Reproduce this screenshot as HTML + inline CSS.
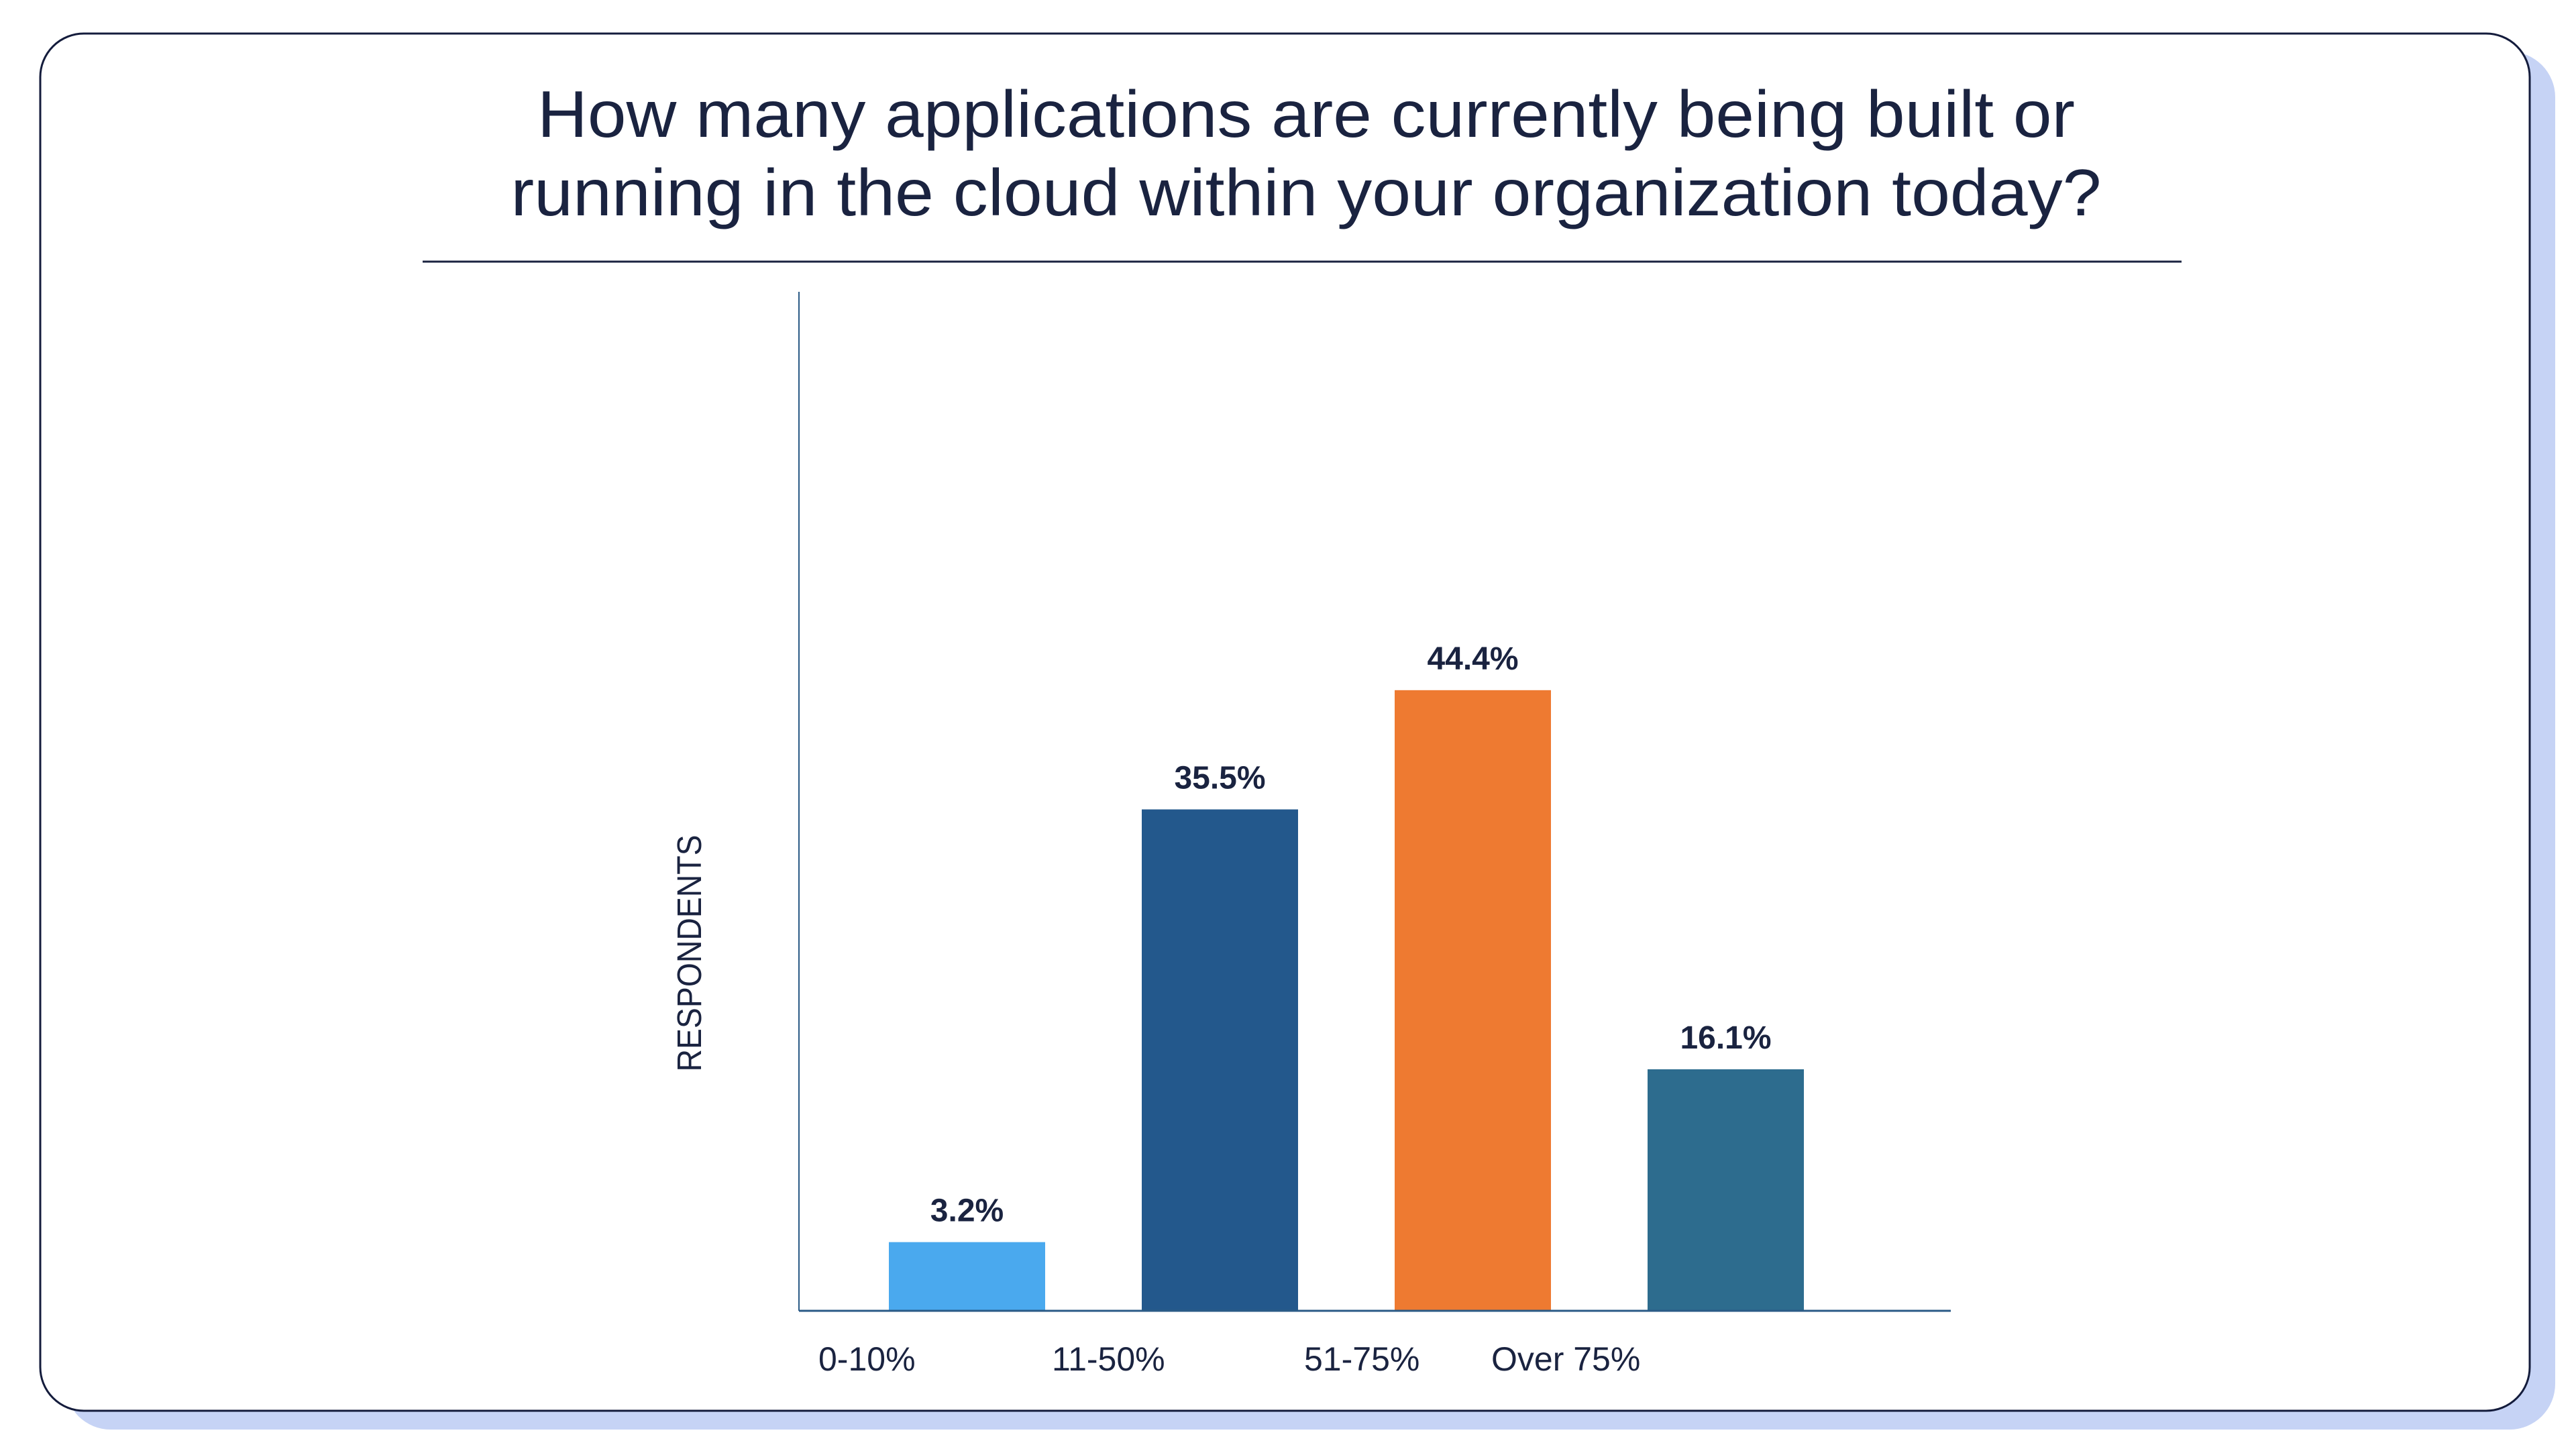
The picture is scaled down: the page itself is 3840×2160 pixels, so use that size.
<!DOCTYPE html>
<html><head><meta charset="utf-8"><style>
html,body{margin:0;padding:0;background:#fff;}
svg{display:block;}
</style></head><body>
<svg width="3840" height="2160" viewBox="0 0 3840 2160" xmlns="http://www.w3.org/2000/svg" font-family="'Liberation Sans', sans-serif">
<rect x="97" y="77" width="3712" height="2054" rx="68" fill="#c6d3f5"/>
<rect x="60" y="50" width="3711" height="2053" rx="65" fill="#fff" stroke="#141c3c" stroke-width="3"/>
<g fill="#1a2340" font-size="98" text-anchor="middle">
<text x="1947" y="204" textLength="2292" lengthAdjust="spacingAndGlyphs">How many applications are currently being built or</text>
<text x="1947" y="321" textLength="2371" lengthAdjust="spacingAndGlyphs">running in the cloud within your organization today?</text>
</g>
<line x1="630" y1="390" x2="3252" y2="390" stroke="#1a2340" stroke-width="3"/>
<text transform="translate(1045,1421) rotate(-90)" text-anchor="middle" font-size="51" fill="#1a2340" textLength="353" lengthAdjust="spacingAndGlyphs">RESPONDENTS</text>
<g id="plot"></g>
</svg>
<script>
const categories = ["0-10%", "11-50%", "51-75%", "Over 75%"];
const values = [3.2, 35.5, 44.4, 16.1];
const valueLabels = ["3.2%", "35.5%", "44.4%", "16.1%"];
const colors = ["#4aa9ee", "#23588c", "#ee7a31", "#2d6c8e"];

const NS = "http://www.w3.org/2000/svg";
const plot = document.getElementById("plot");
const axisX = 1191, axisEnd = 2908, baseY = 1954, axisTop = 435;
const firstBarX = 1325, barStep = 377, barW = 233;
const labelOffset = [105, 134, 135, 233];
function xScale(i){ return firstBarX + i*barStep; }
function yScale(v){ return baseY - (38.5 + 19.97*v); }

function mk(tag, attrs){ const e=document.createElementNS(NS,tag); for(const k in attrs) e.setAttribute(k,attrs[k]); return e; }

const yAxis = mk("line",{x1:axisX,y1:axisTop,x2:axisX,y2:baseY,stroke:"#2a5a86","stroke-width":2});


plot.appendChild(yAxis);

values.forEach((v,i)=>{
  const x = xScale(i), y = yScale(v);
  const r = mk("rect",{x:x,y:y,width:barW,height:baseY-y,fill:colors[i]});
  
  
  plot.appendChild(r);
  const t = mk("text",{x:x+barW/2,y:y-31,"text-anchor":"middle","font-size":48,"font-weight":"bold",fill:"#1a2340"});
  t.textContent = valueLabels[i];
  
  
  plot.appendChild(t);
  const c = mk("text",{x:x-labelOffset[i],y:2043,"font-size":50,fill:"#1a2340"});
  c.textContent = categories[i];
  
  
  plot.appendChild(c);
});

const xAxis = mk("line",{x1:axisX,y1:baseY,x2:axisEnd,y2:baseY,stroke:"#2a5a86","stroke-width":3});


plot.appendChild(xAxis);
</script>
</body></html>
